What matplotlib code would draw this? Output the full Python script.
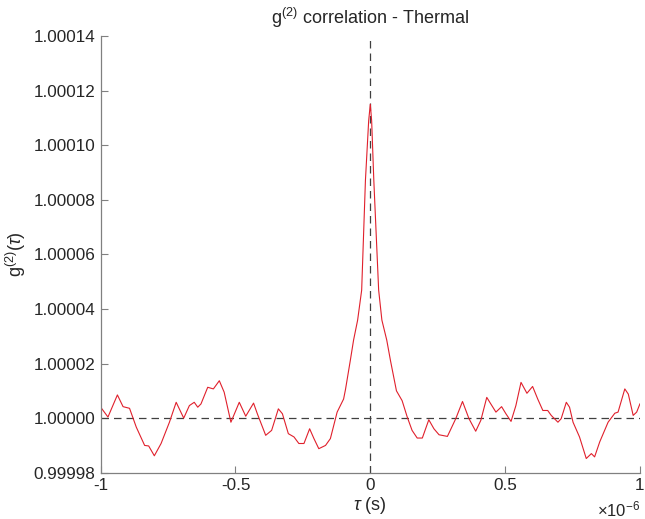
import numpy as np
import matplotlib
matplotlib.use('Agg')
import matplotlib.pyplot as plt
from matplotlib.ticker import FormatStrFormatter

plt.rcParams['font.family'] = ['Liberation Sans', 'DejaVu Sans']
plt.rcParams['mathtext.fontset'] = 'custom'
plt.rcParams['mathtext.rm'] = 'Liberation Sans'
plt.rcParams['mathtext.it'] = 'Liberation Sans:italic'

# delay in units of 1e-6 s
tau = [-1.0, -0.973, -0.938, -0.917, -0.893, -0.868, -0.837, -0.822, -0.801,
       -0.776, -0.745, -0.720, -0.692, -0.671, -0.653, -0.640, -0.628, -0.603,
       -0.582, -0.560, -0.542, -0.517, -0.486, -0.462, -0.433, -0.419, -0.388,
       -0.366, -0.341, -0.326, -0.304, -0.283, -0.265, -0.246, -0.225, -0.209,
       -0.191, -0.166, -0.148, -0.123, -0.099, -0.092, -0.074, -0.062, -0.047,
       -0.032, -0.018, -0.006, 0.0, 0.005, 0.013, 0.031, 0.043, 0.061, 0.075,
       0.097, 0.118, 0.137, 0.155, 0.174, 0.193, 0.217, 0.236, 0.255, 0.286,
       0.317, 0.342, 0.366, 0.391, 0.410, 0.432, 0.447, 0.466, 0.487, 0.503,
       0.522, 0.540, 0.559, 0.581, 0.602, 0.621, 0.640, 0.658, 0.671, 0.696,
       0.708, 0.727, 0.739, 0.752, 0.776, 0.801, 0.820, 0.832, 0.851, 0.882,
       0.907, 0.919, 0.944, 0.957, 0.975, 0.988, 1.0]
# g2 - 1 in units of 1e-5
dg = [0.40, 0.04, 0.85, 0.42, 0.36, -0.33, -1.00, -1.02, -1.38,
      -0.93, -0.15, 0.58, 0.00, 0.46, 0.58, 0.40, 0.52, 1.13,
      1.07, 1.37, 0.95, -0.15, 0.58, 0.07, 0.55, 0.16, -0.63,
      -0.45, 0.34, 0.16, -0.57, -0.69, -0.93, -0.93, -0.39, -0.75,
      -1.12, -1.00, -0.75, 0.22, 0.70, 1.05, 2.12, 2.86, 3.59,
      4.69, 8.72, 10.9, 11.5, 10.9, 8.72, 4.69, 3.59, 2.86, 2.10,
      1.00, 0.64, 0.04, -0.45, -0.73, -0.73, -0.06, -0.39, -0.61, -0.67,
      -0.02, 0.61, -0.02, -0.48, -0.08, 0.76, 0.52, 0.22, 0.42, 0.16,
      -0.12, 0.46, 1.31, 0.91, 1.16, 0.70, 0.28, 0.28, 0.10, -0.15,
      -0.02, 0.58, 0.40, -0.15, -0.69, -1.48, -1.30, -1.42, -0.87, -0.15,
      0.18, 0.22, 1.07, 0.88, 0.10, 0.22, 0.52]

x_ticks = [-1, -0.5, 0, 0.5, 1]
y_ticks = [0.99998, 1.0, 1.00002, 1.00004, 1.00006, 1.00008, 1.0001, 1.00012, 1.00014]

g2 = 1 + np.array(dg) * 1e-5

fig = plt.figure(figsize=(6.45, 5.19), dpi=100)
ax = fig.add_axes([0.1561, 0.0892, 0.836, 0.8414])

ax.axhline(1.0, color='#404040', lw=0.9, ls=(0, (6, 4)))
ax.axvline(0.0, color='#404040', lw=0.9, ls=(0, (6, 4)))
ax.plot(tau, g2, color='#e0202c', lw=0.8)

ax.set_xlim(-1, 1)
ax.set_ylim(0.99998, 1.00014)
ax.set_xticks(x_ticks)
ax.set_xticklabels(['-1', '-0.5', '0', '0.5', '1'])
ax.set_yticks(y_ticks)
ax.yaxis.set_major_formatter(FormatStrFormatter('%.5f'))

for side in ['top', 'right']:
    ax.spines[side].set_visible(False)
for side in ['left', 'bottom']:
    ax.spines[side].set_color('#808080')
    ax.spines[side].set_linewidth(0.9)
ax.tick_params(direction='in', length=5, width=0.8, color='#808080',
               labelcolor='#262626', labelsize=12.3, pad=4)

ax.set_title(r'g$^{(2)}$ correlation - Thermal', fontsize=13, color='#262626', pad=9)
ax.set_ylabel(r'g$^{(2)}$($\tau$)', fontsize=13, color='#262626', labelpad=4)
ax.set_xlabel(r'$\tau$ (s)', fontsize=13, color='#262626', labelpad=1)
ax.text(1.0, -0.085, r'$\times$10$^{-6}$', transform=ax.transAxes,
        ha='right', va='center', fontsize=12, color='#262626')

fig.savefig('out.png', dpi=100)
